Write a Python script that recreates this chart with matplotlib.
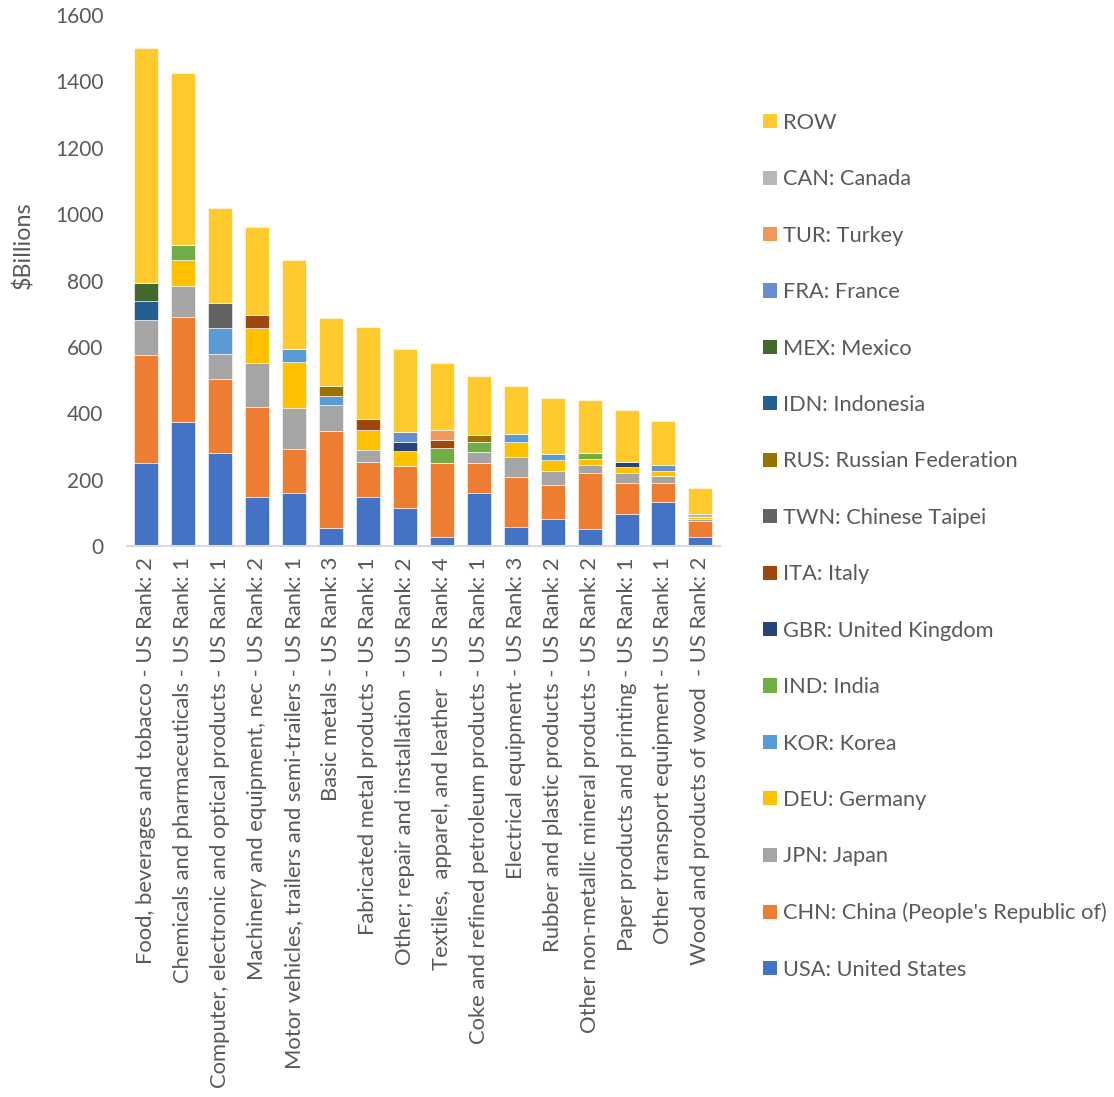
import matplotlib
matplotlib.use('Agg')
import matplotlib.pyplot as plt
from matplotlib.patches import Patch

plt.rcParams['font.family'] = ['Lato', 'DejaVu Sans']

categories = [
    "Food, beverages and tobacco - US Rank: 2",
    "Chemicals and pharmaceuticals - US Rank: 1",
    "Computer, electronic and optical products - US Rank: 1",
    "Machinery and equipment, nec - US Rank: 2",
    "Motor vehicles, trailers and semi-trailers - US Rank: 1",
    "Basic metals - US Rank: 3",
    "Fabricated metal products - US Rank: 1",
    "Other; repair and installation  - US Rank: 2",
    "Textiles,  apparel, and leather  - US Rank: 4",
    "Coke and refined petroleum products - US Rank: 1",
    "Electrical equipment - US Rank: 3",
    "Rubber and plastic products - US Rank: 2",
    "Other non-metallic mineral products - US Rank: 2",
    "Paper products and printing - US Rank: 1",
    "Other transport equipment - US Rank: 1",
    "Wood and products of wood  - US Rank: 2",
]

# $ billions per industry, stacked bottom to top
usa = [249, 374, 279, 147, 161, 55, 147, 113, 28, 159, 56, 80, 51, 97, 134, 28]
chn = [325, 315, 223, 271, 130, 290, 105, 129, 222, 91, 153, 105, 168, 92, 55, 48]
jpn = [107, 93, 76, 132, 125, 79, 38, 0, 0, 32, 58, 42, 24, 30, 21, 6]
deu = [0, 79, 0, 106, 137, 0, 60, 45, 0, 0, 47, 32, 19, 20, 17, 6]
kor = [0, 0, 80, 0, 41, 27, 0, 0, 0, 0, 22, 19, 0, 0, 0, 0]
ind = [0, 47, 0, 0, 0, 0, 0, 0, 46, 30, 0, 0, 17, 0, 0, 0]
gbr = [0, 0, 0, 0, 0, 0, 0, 25, 0, 0, 0, 0, 0, 15, 0, 0]
ita = [0, 0, 0, 39, 0, 0, 32, 0, 24, 0, 0, 0, 0, 0, 0, 0]
twn = [0, 0, 74, 0, 0, 0, 0, 0, 0, 0, 0, 0, 0, 0, 0, 0]
rus = [0, 0, 0, 0, 0, 31, 0, 0, 0, 23, 0, 0, 0, 0, 0, 0]
idn = [57, 0, 0, 0, 0, 0, 0, 0, 0, 0, 0, 0, 0, 0, 0, 0]
mex = [53, 0, 0, 0, 0, 0, 0, 0, 0, 0, 0, 0, 0, 0, 0, 0]
fra = [0, 0, 0, 0, 0, 0, 0, 31, 0, 0, 0, 0, 0, 0, 17, 0]
tur = [0, 0, 0, 0, 0, 0, 0, 0, 29, 0, 0, 0, 0, 0, 0, 0]
can = [0, 0, 0, 0, 0, 0, 0, 0, 0, 0, 0, 0, 0, 0, 0, 8]
row = [709, 518, 285, 267, 267, 204, 277, 251, 203, 177, 146, 167, 160, 155, 132, 80]

series = [
    ("USA: United States", usa, '#4472C4'),
    ("CHN: China (People's Republic of)", chn, '#ED7D31'),
    ("JPN: Japan", jpn, '#A5A5A5'),
    ("DEU: Germany", deu, '#FFC000'),
    ("KOR: Korea", kor, '#5B9BD5'),
    ("IND: India", ind, '#70AD47'),
    ("GBR: United Kingdom", gbr, '#264478'),
    ("ITA: Italy", ita, '#9E480E'),
    ("TWN: Chinese Taipei", twn, '#636363'),
    ("RUS: Russian Federation", rus, '#997300'),
    ("IDN: Indonesia", idn, '#255E91'),
    ("MEX: Mexico", mex, '#43682B'),
    ("FRA: France", fra, '#698ED0'),
    ("TUR: Turkey", tur, '#F1975A'),
    ("CAN: Canada", can, '#B7B7B7'),
    ("ROW", row, '#FFCA2E'),
]

txt = '#595959'

fig = plt.figure(figsize=(11.14, 10.97), dpi=100)
ax = fig.add_axes([0.114, 0.5023, 0.532, 0.484])

x = list(range(len(categories)))
bottom = [0] * len(categories)
handles = []
for name, vals, col in series:
    ax.bar(x, vals, 0.65, bottom=bottom, color=col, edgecolor='#ffffff', linewidth=0.4)
    bottom = [b + v for b, v in zip(bottom, vals)]
    handles.append(Patch(facecolor=col, edgecolor='none', label=name))

ax.set_xlim(-0.52, len(categories) - 0.48)
ax.set_ylim(0, 1600)
ax.set_yticks(range(0, 1601, 200))
ax.set_xticks(x)
ax.set_xticklabels(categories, rotation=90, ha='center', va='top')
ax.tick_params(axis='both', length=0, colors=txt)
ax.tick_params(axis='x', pad=8, labelsize=15.8)
ax.tick_params(axis='y', pad=17, labelsize=15)
for s in ['left', 'right', 'top']:
    ax.spines[s].set_visible(False)
ax.spines['bottom'].set_color('#d9d9d9')
ax.spines['bottom'].set_linewidth(1.5)

ax.set_ylabel('$Billions', fontsize=16.8, color=txt)
ax.yaxis.set_label_coords(-0.157, 0.567)

leg = fig.legend(handles=handles[::-1], loc='upper left', bbox_to_anchor=(0.685, 0.897),
                 frameon=False, fontsize=15.7, handlelength=0.62, handleheight=0.62,
                 handletextpad=0.3, labelspacing=1.67, labelcolor=txt,
                 borderpad=0, borderaxespad=0)

fig.savefig('out.png', dpi=100)
